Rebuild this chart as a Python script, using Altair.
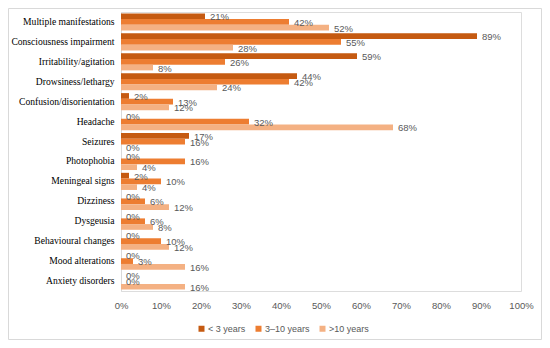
import altair as alt
import pandas as pd

categories = [
    "Multiple manifestations", "Consciousness impairment", "Irritability/agitation",
    "Drowsiness/lethargy", "Confusion/disorientation", "Headache", "Seizures",
    "Photophobia", "Meningeal signs", "Dizziness", "Dysgeusia",
    "Behavioural changes", "Mood alterations", "Anxiety disorders",
]
series = ["< 3 years", "3\u201310 years", ">10 years"]
under3 = [21, 89, 59, 44, 2, 0, 17, 0, 2, 0, 0, 0, 0, 0]
age3to10 = [42, 55, 26, 42, 13, 32, 16, 16, 10, 6, 6, 10, 3, 0]
over10 = [52, 28, 8, 24, 12, 68, 0, 4, 4, 12, 8, 12, 16, 16]
colors = ["#c55a11", "#ed7d31", "#f4b183"]
x_ticks = [0, 0.1, 0.2, 0.3, 0.4, 0.5, 0.6, 0.7, 0.8, 0.9, 1.0]

rows = []
for s, vals in zip(series, [under3, age3to10, over10]):
    for c, v in zip(categories, vals):
        rows.append({"category": c, "series": s, "value": v / 100})
df = pd.DataFrame(rows)

y_enc = alt.Y("category:N", sort=categories, title=None,
              scale=alt.Scale(paddingInner=0.14, paddingOuter=0.07),
              axis=alt.Axis(labelFont="Times New Roman, Liberation Serif, serif",
                            labelFontSize=9.6, labelFontWeight="normal",
                            labelColor="#000000", ticks=False, domainColor="#d9d9d9",
                            labelPadding=7, labelLimit=200))
x_enc = alt.X("value:Q", title=None,
              scale=alt.Scale(domain=[0, 1], nice=False),
              axis=alt.Axis(values=x_ticks, format=".0%", grid=False, domain=False,
                            ticks=False, labelFont="Liberation Sans", labelFontSize=9.5,
                            labelColor="#595959", labelPadding=9, labelFlush=False))
yoff = alt.YOffset("series:N", sort=series)

bars = alt.Chart(df).mark_bar().encode(
    y=y_enc, x=x_enc, yOffset=yoff,
    color=alt.Color("series:N", sort=series,
                    scale=alt.Scale(domain=series, range=colors),
                    legend=alt.Legend(title=None, orient="none", direction="horizontal",
                                      legendX=76, legendY=312, symbolType="square",
                                      symbolSize=36, symbolStrokeWidth=0,
                                      labelFont="Liberation Sans", labelFontSize=9,
                                      labelColor="#595959", columnPadding=8,
                                      symbolOffset=0, labelOffset=2)),
)

labels = alt.Chart(df).mark_text(align="left", baseline="middle", dx=5, dy=1,
                                 font="Liberation Sans", fontSize=9.5,
                                 color="#595959").encode(
    y=y_enc, x=x_enc, yOffset=yoff,
    text=alt.Text("value:Q", format=".0%"),
)

frame = alt.Chart(pd.DataFrame({"k": [0]})).mark_rect(
    fill=None, stroke="#d9d9d9", strokeWidth=1
).encode(
    x=alt.value(-112.5), x2=alt.value(420.5), y=alt.value(-3.5), y2=alt.value(327.5)
)

chart = (frame + bars + labels).properties(
    width=400, height=279,
    autosize=alt.AutoSizeParams(type="none"),
    padding={"left": 113, "top": 4, "right": 21, "bottom": 49},
).configure_view(stroke=None).configure(background="white")

chart.save("out.html", embed_options={"renderer": "svg", "actions": False})
